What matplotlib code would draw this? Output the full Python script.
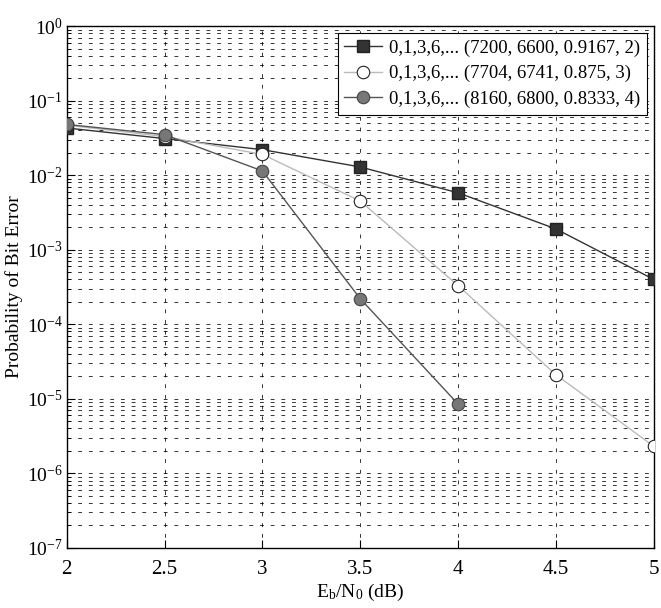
import matplotlib
matplotlib.use("Agg")
import matplotlib.pyplot as plt
from matplotlib.ticker import FuncFormatter, LogLocator, FixedLocator
import numpy as np

plt.rcParams['font.family'] = ['Liberation Serif', 'DejaVu Serif']
plt.rcParams['mathtext.fontset'] = 'custom'
plt.rcParams['mathtext.rm'] = 'Liberation Serif'
plt.rcParams['mathtext.it'] = 'Liberation Serif'

# datos
ebn0 = [2, 2.5, 3, 3.5, 4, 4.5, 5]
ber_m2 = [0.043, 0.031, 0.022, 0.0129, 0.0058, 0.0019, 4.0e-4]
ber_m3 = [0.047, 0.033, 0.019, 0.0045, 3.3e-4, 2.1e-5, 2.3e-6]
ebn0_m4 = [2, 2.5, 3, 3.5, 4]
ber_m4 = [0.048, 0.035, 0.0114, 2.2e-4, 8.5e-6]

labels = ["0,1,3,6,... (7200, 6600, 0.9167, 2)",
          "0,1,3,6,... (7704, 6741, 0.875, 3)",
          "0,1,3,6,... (8160, 6800, 0.8333, 4)"]

fig = plt.figure(figsize=(6.61, 6.08), dpi=100)
ax = fig.add_axes([0.101, 0.099, 0.888, 0.858])

ax.semilogy(ebn0, ber_m2, color="#333333", lw=1.0, marker="s", ms=8,
            mfc="#333333", mec="#222222", label=labels[0], zorder=3)
ax.semilogy(ebn0, ber_m3, color="#bbbbbb", lw=1.0, marker="o", ms=9,
            mfc="white", mec="#222222", mew=0.8, label=labels[1], zorder=4)
ax.semilogy(ebn0_m4, ber_m4, color="#555555", lw=1.0, marker="o", ms=9,
            mfc="#777777", mec="#444444", mew=0.8, label=labels[2], zorder=5)

ax.set_xlim(2, 5)
ax.set_ylim(1e-7, 1)
ax.set_xticks(ebn0)
ax.set_xticklabels(["2", "2.5", "3", "3.5", "4", "4.5", "5"])

ax.yaxis.set_major_locator(FixedLocator([10.0**k for k in range(-7, 1)]))
ax.yaxis.set_minor_locator(LogLocator(base=10, subs=np.arange(2, 10), numticks=20))
ax.yaxis.set_major_formatter(FuncFormatter(
    lambda v, p: r"$\mathregular{10^{%d}}$" % round(np.log10(v))))

# rejilla punteada estilo matlab
dash = (0, (5, 9))
ax.grid(True, axis="x", which="major", color="black", lw=0.55, linestyle=dash)
ax.grid(True, axis="y", which="both", color="black", lw=0.55, linestyle=dash)

ax.tick_params(direction="in", which="both", top=False, right=False)
ax.tick_params(axis="y", pad=3, labelsize=14)
ax.tick_params(axis="x", pad=9, labelsize=15)
ax.tick_params(which="major", length=6)
ax.tick_params(which="minor", length=3)

for s in ax.spines.values():
    s.set_linewidth(1.0)

ax.set_xlabel(r"E$_\mathregular{b}$/N$_\mathregular{0}$ (dB)", fontsize=14, labelpad=2)
ax.set_ylabel("Probability of Bit Error", fontsize=14)
ax.yaxis.set_label_coords(-0.075, 0.5)

leg = ax.legend(loc="upper right", fontsize=13.5, fancybox=False, framealpha=1,
                edgecolor="black", borderpad=0.35, labelspacing=0.45, handlelength=2.0,
                handletextpad=0.4, borderaxespad=0.35)
leg.get_frame().set_linewidth(0.8)

fig.savefig("out.png", dpi=100)
